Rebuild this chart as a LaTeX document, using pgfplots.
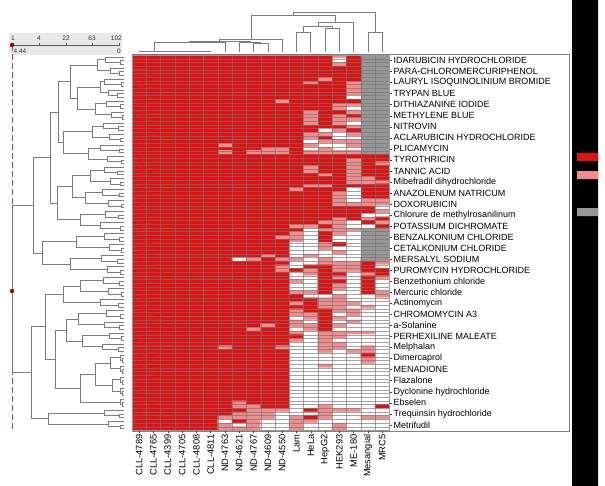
\documentclass[border=0pt]{standalone}
\usepackage{pgfplots}
\pgfplotsset{compat=1.18}
\usepackage{pgfplotstable}
\usepackage{fontspec}
\setmainfont{Liberation Sans}

% heat values, one line per drug row (102 rows x 18 columns)
% 0 = white, 1 = pink, 2 = red, 3 = grey (missing)
\pgfplotstableread[row sep=\\]{
c\\
2\\2\\2\\2\\2\\2\\2\\2\\2\\2\\2\\2\\2\\2\\1\\2\\3\\3\\
2\\2\\2\\2\\2\\2\\2\\2\\2\\2\\2\\2\\2\\2\\0\\2\\3\\3\\
2\\2\\2\\2\\2\\2\\2\\2\\2\\2\\2\\2\\2\\2\\1\\2\\3\\3\\
2\\2\\2\\2\\2\\2\\2\\2\\2\\2\\2\\2\\2\\2\\2\\2\\3\\3\\
2\\2\\2\\2\\2\\2\\2\\2\\2\\2\\2\\2\\2\\2\\2\\2\\3\\3\\
2\\2\\2\\2\\2\\2\\2\\2\\2\\2\\2\\2\\2\\2\\2\\2\\3\\3\\
2\\2\\2\\2\\2\\2\\2\\2\\2\\2\\2\\2\\2\\1\\2\\2\\3\\3\\
2\\2\\2\\2\\2\\2\\2\\2\\2\\2\\2\\2\\1\\2\\2\\1\\3\\3\\
2\\2\\2\\2\\2\\2\\2\\2\\2\\2\\2\\2\\2\\2\\2\\1\\3\\3\\
2\\2\\2\\2\\2\\2\\2\\2\\2\\2\\2\\2\\2\\2\\2\\1\\3\\3\\
2\\2\\2\\2\\2\\2\\2\\2\\2\\2\\2\\2\\2\\2\\2\\1\\3\\3\\
2\\2\\2\\2\\2\\2\\2\\2\\2\\2\\2\\2\\2\\2\\2\\0\\3\\3\\
2\\2\\2\\2\\2\\2\\2\\2\\2\\2\\1\\2\\2\\2\\2\\2\\3\\3\\
2\\2\\2\\2\\2\\2\\2\\2\\2\\2\\2\\2\\2\\2\\1\\1\\3\\3\\
2\\2\\2\\2\\2\\2\\2\\2\\2\\2\\2\\2\\2\\2\\1\\0\\3\\3\\
2\\2\\2\\2\\2\\2\\2\\2\\2\\2\\2\\2\\1\\2\\2\\1\\3\\3\\
2\\2\\2\\2\\2\\2\\2\\2\\2\\2\\2\\2\\1\\2\\1\\2\\3\\3\\
2\\2\\2\\2\\2\\2\\2\\2\\2\\2\\2\\2\\1\\2\\1\\1\\3\\3\\
2\\2\\2\\2\\2\\2\\2\\2\\2\\2\\2\\2\\1\\2\\1\\0\\3\\3\\
2\\2\\2\\2\\2\\2\\2\\2\\2\\2\\2\\2\\2\\2\\2\\1\\3\\3\\
2\\2\\2\\2\\2\\2\\2\\2\\2\\2\\2\\2\\2\\0\\1\\2\\3\\3\\
2\\2\\2\\2\\2\\2\\2\\2\\2\\2\\2\\2\\1\\1\\0\\1\\3\\3\\
2\\2\\2\\2\\2\\2\\2\\2\\2\\2\\2\\2\\1\\2\\0\\0\\3\\3\\
2\\2\\2\\2\\2\\2\\2\\2\\2\\2\\2\\2\\0\\1\\1\\1\\3\\3\\
2\\2\\2\\2\\2\\2\\1\\2\\2\\2\\2\\2\\1\\0\\0\\1\\3\\3\\
2\\2\\2\\2\\2\\2\\2\\2\\2\\1\\1\\2\\0\\1\\0\\0\\3\\3\\
2\\2\\2\\2\\2\\2\\1\\2\\1\\1\\1\\2\\1\\1\\1\\1\\3\\3\\
2\\2\\2\\2\\2\\2\\2\\2\\2\\2\\2\\2\\2\\2\\2\\2\\2\\2\\
2\\2\\2\\2\\2\\2\\2\\2\\2\\2\\2\\2\\2\\2\\2\\1\\2\\2\\
2\\2\\2\\2\\2\\2\\2\\2\\2\\2\\2\\2\\2\\2\\2\\1\\2\\1\\
2\\2\\2\\2\\2\\2\\2\\2\\2\\2\\2\\2\\1\\2\\2\\1\\2\\2\\
2\\2\\2\\2\\2\\2\\2\\2\\2\\2\\2\\2\\1\\2\\2\\1\\2\\2\\
2\\2\\2\\2\\2\\2\\2\\2\\2\\2\\2\\2\\2\\1\\2\\1\\2\\2\\
2\\2\\2\\2\\2\\2\\2\\2\\2\\2\\2\\2\\2\\2\\2\\1\\1\\2\\
2\\2\\2\\2\\2\\2\\2\\2\\2\\2\\2\\2\\2\\2\\2\\1\\1\\1\\
2\\2\\2\\2\\2\\2\\2\\2\\2\\2\\2\\2\\1\\1\\2\\2\\2\\2\\
2\\2\\2\\2\\2\\2\\2\\2\\2\\2\\2\\1\\2\\2\\2\\0\\2\\2\\
2\\2\\2\\2\\2\\2\\2\\2\\2\\2\\2\\2\\2\\2\\1\\0\\2\\2\\
2\\2\\2\\2\\2\\2\\2\\2\\2\\2\\2\\2\\2\\2\\1\\0\\2\\2\\
2\\2\\2\\2\\2\\2\\2\\2\\2\\2\\2\\2\\2\\2\\1\\0\\1\\1\\
2\\2\\2\\2\\2\\2\\2\\2\\2\\2\\2\\2\\2\\2\\1\\1\\1\\1\\
2\\2\\2\\2\\2\\2\\2\\2\\2\\2\\2\\2\\2\\2\\2\\2\\2\\0\\
2\\2\\2\\2\\2\\2\\2\\2\\2\\2\\2\\2\\2\\2\\2\\2\\2\\1\\
2\\2\\2\\2\\2\\2\\2\\2\\2\\2\\2\\2\\2\\2\\2\\2\\0\\0\\
2\\2\\2\\2\\2\\2\\2\\2\\2\\2\\2\\2\\2\\2\\1\\2\\1\\2\\
2\\2\\2\\2\\2\\2\\2\\2\\2\\2\\2\\2\\2\\1\\1\\0\\2\\1\\
2\\2\\2\\2\\2\\2\\2\\2\\2\\2\\2\\1\\1\\2\\1\\0\\0\\2\\
2\\2\\2\\2\\2\\2\\2\\2\\2\\2\\2\\2\\0\\1\\1\\1\\3\\3\\
2\\2\\2\\2\\2\\2\\2\\2\\2\\2\\2\\1\\0\\2\\1\\0\\3\\3\\
2\\2\\2\\2\\2\\2\\2\\2\\2\\2\\1\\1\\0\\2\\0\\0\\3\\3\\
2\\2\\2\\2\\2\\2\\2\\2\\2\\2\\2\\1\\0\\2\\0\\0\\3\\3\\
2\\2\\2\\2\\2\\2\\2\\2\\2\\2\\2\\0\\0\\1\\2\\0\\3\\3\\
2\\2\\2\\2\\2\\2\\2\\2\\2\\2\\2\\0\\0\\1\\0\\0\\3\\3\\
2\\2\\2\\2\\2\\2\\2\\2\\2\\2\\2\\0\\0\\0\\1\\0\\3\\3\\
2\\2\\2\\2\\2\\2\\2\\2\\2\\1\\2\\0\\1\\0\\0\\0\\3\\3\\
2\\2\\2\\2\\2\\2\\2\\0\\1\\2\\1\\1\\0\\1\\0\\0\\3\\3\\
2\\2\\2\\2\\2\\2\\2\\2\\2\\2\\2\\0\\0\\1\\1\\1\\2\\1\\
2\\2\\2\\2\\2\\2\\2\\2\\2\\2\\1\\0\\2\\2\\1\\1\\2\\0\\
2\\2\\2\\2\\2\\2\\2\\2\\2\\2\\1\\2\\1\\2\\1\\1\\2\\2\\
2\\2\\2\\2\\2\\2\\2\\2\\2\\2\\2\\0\\1\\2\\2\\0\\1\\2\\
2\\2\\2\\2\\2\\2\\2\\2\\2\\2\\2\\0\\0\\2\\1\\0\\2\\1\\
2\\2\\2\\2\\2\\2\\2\\2\\2\\2\\2\\1\\0\\2\\2\\0\\2\\0\\
2\\2\\2\\2\\2\\2\\2\\2\\2\\2\\2\\0\\0\\2\\1\\0\\2\\0\\
2\\2\\2\\2\\2\\2\\2\\2\\2\\2\\2\\0\\0\\2\\1\\0\\2\\0\\
2\\2\\2\\2\\2\\2\\2\\2\\2\\2\\2\\1\\1\\2\\0\\0\\2\\1\\
2\\2\\2\\2\\2\\2\\2\\2\\2\\2\\2\\2\\0\\0\\1\\0\\0\\1\\
2\\2\\2\\2\\2\\2\\2\\2\\2\\2\\2\\2\\2\\1\\1\\0\\0\\0\\
2\\2\\2\\2\\2\\2\\2\\2\\2\\2\\2\\1\\2\\1\\1\\1\\0\\0\\
2\\2\\2\\2\\2\\2\\2\\2\\2\\2\\2\\2\\2\\1\\1\\0\\1\\0\\
2\\2\\2\\2\\2\\2\\2\\2\\2\\2\\2\\1\\2\\2\\1\\1\\0\\0\\
2\\2\\2\\2\\2\\2\\2\\2\\2\\2\\2\\1\\1\\2\\0\\1\\0\\0\\
2\\2\\2\\2\\2\\2\\2\\2\\2\\2\\2\\0\\1\\2\\1\\0\\0\\0\\
2\\2\\2\\2\\2\\2\\2\\2\\2\\2\\2\\1\\0\\2\\0\\1\\0\\0\\
2\\2\\2\\2\\2\\2\\2\\2\\2\\1\\2\\1\\1\\2\\1\\0\\0\\0\\
2\\2\\2\\2\\2\\2\\2\\2\\1\\2\\2\\0\\1\\2\\0\\0\\0\\0\\
2\\2\\2\\2\\2\\2\\2\\2\\2\\2\\2\\1\\0\\1\\1\\1\\1\\0\\
2\\2\\2\\2\\2\\2\\2\\2\\2\\2\\2\\2\\0\\1\\1\\0\\0\\0\\
2\\2\\2\\2\\2\\2\\2\\2\\2\\2\\2\\1\\0\\1\\0\\0\\0\\0\\
2\\2\\2\\2\\2\\2\\2\\2\\2\\2\\2\\0\\0\\1\\1\\0\\0\\0\\
2\\2\\2\\2\\2\\2\\1\\2\\2\\2\\1\\0\\0\\1\\1\\0\\1\\0\\
2\\2\\2\\2\\2\\2\\2\\2\\2\\2\\2\\0\\0\\1\\0\\1\\1\\0\\
2\\2\\2\\2\\2\\2\\2\\2\\2\\2\\2\\0\\0\\0\\0\\0\\2\\0\\
2\\2\\2\\2\\2\\2\\2\\2\\2\\2\\2\\0\\0\\0\\0\\0\\1\\0\\
2\\2\\2\\2\\2\\2\\2\\2\\2\\2\\2\\0\\0\\0\\0\\0\\1\\0\\
2\\2\\2\\2\\2\\2\\2\\2\\2\\2\\2\\0\\0\\1\\0\\0\\0\\0\\
2\\2\\2\\2\\2\\2\\2\\2\\2\\2\\2\\0\\0\\0\\0\\0\\0\\0\\
2\\2\\2\\2\\2\\2\\2\\2\\2\\2\\2\\0\\0\\0\\0\\0\\0\\0\\
2\\2\\2\\2\\2\\2\\2\\2\\2\\2\\2\\0\\0\\0\\0\\0\\0\\0\\
2\\2\\2\\2\\2\\2\\2\\2\\2\\2\\2\\0\\0\\0\\0\\0\\0\\0\\
2\\2\\2\\2\\2\\2\\2\\2\\2\\2\\2\\0\\0\\0\\0\\0\\0\\0\\
2\\2\\2\\2\\2\\2\\2\\2\\2\\2\\2\\0\\0\\0\\0\\0\\0\\0\\
2\\2\\2\\2\\2\\2\\2\\2\\2\\2\\2\\0\\0\\0\\0\\0\\0\\0\\
2\\2\\2\\2\\2\\2\\2\\2\\2\\2\\2\\0\\0\\0\\0\\0\\0\\0\\
2\\2\\2\\2\\2\\2\\2\\2\\2\\2\\2\\0\\0\\0\\0\\0\\0\\0\\
2\\2\\2\\2\\2\\2\\2\\1\\2\\2\\2\\0\\0\\0\\0\\0\\0\\0\\
2\\2\\2\\2\\2\\2\\2\\1\\1\\2\\2\\0\\0\\1\\0\\0\\0\\2\\
2\\2\\2\\2\\2\\2\\2\\2\\1\\1\\1\\0\\2\\1\\1\\1\\0\\0\\
2\\2\\2\\2\\2\\2\\2\\1\\1\\1\\0\\0\\0\\1\\0\\0\\0\\0\\
2\\2\\2\\2\\2\\2\\1\\1\\1\\1\\0\\1\\2\\1\\0\\0\\1\\1\\
2\\2\\2\\2\\2\\2\\0\\2\\1\\0\\0\\1\\1\\0\\0\\0\\0\\0\\
2\\2\\2\\2\\2\\2\\1\\0\\1\\0\\0\\1\\0\\0\\1\\0\\0\\0\\
2\\2\\2\\2\\2\\2\\1\\1\\1\\0\\0\\1\\0\\0\\1\\0\\0\\0\\
}\heatdata

\definecolor{hred}{RGB}{226,17,17}
\definecolor{hpink}{RGB}{240,140,140}
\definecolor{hgrey}{RGB}{150,150,150}
\definecolor{dendro}{RGB}{125,125,125}
\definecolor{slider}{RGB}{232,232,232}
\definecolor{cutred}{RGB}{200,60,60}

\begin{document}
\begin{tikzpicture}
% ---------- canvas axis in pixel units (y downwards) ----------
\begin{axis}[
  name=main, at={(0,0)}, anchor=south west,
  scale only axis, width=605bp, height=486bp,
  xmin=0, xmax=605, ymin=0, ymax=486, y dir=reverse,
  hide axis, clip=false,
]
\addplot[draw=none, fill=white] coordinates {(0,0)(605,0)(605,486)(0,486)(0,0)};
% frame round heatmap and labels
\addplot[draw=gray, line width=0.5bp] coordinates {(132,54)(569,54)(569,431)(132,431)(132,54)};
% black legend bar with colour swatches
\addplot[draw=none, fill=black] coordinates {(572,0)(598,0)(598,486)(572,486)(572,0)};
\addplot[draw=none, fill=hred] coordinates {(577,153)(598,153)(598,161)(577,161)(577,153)};
\addplot[draw=none, fill=hpink] coordinates {(577,171)(598,171)(598,179)(577,179)(577,171)};
\addplot[draw=none, fill=hgrey] coordinates {(577,208)(598,208)(598,216)(577,216)(577,208)};
% slider
\addplot[draw=none, fill=slider] coordinates {(9,33)(122,33)(122,55)(9,55)(9,33)};
\addplot[draw=gray!70!black, line width=0.5bp, unbounded coords=jump] table {
x y
12 45
120 45
nan nan
13 45
13 43
nan nan
39 45
39 43
nan nan
66 45
66 43
nan nan
92 45
92 43
nan nan
119.5 45
119.5 43
};
\node[font=\fontsize{6.5bp}{7bp}\selectfont, text=black!80] at (axis cs:13,38) {1};
\node[font=\fontsize{6.5bp}{7bp}\selectfont, text=black!80] at (axis cs:39,38) {4};
\node[font=\fontsize{6.5bp}{7bp}\selectfont, text=black!80] at (axis cs:66,38) {22};
\node[font=\fontsize{6.5bp}{7bp}\selectfont, text=black!80] at (axis cs:92,38) {63};
\node[font=\fontsize{6.5bp}{7bp}\selectfont, text=black!80, anchor=east, inner sep=0pt] at (axis cs:122,38) {102};
\node[font=\fontsize{6.5bp}{7bp}\selectfont, text=black!80, anchor=west, inner sep=0pt] at (axis cs:13.5,51.5) {4.44};
\node[font=\fontsize{6.5bp}{7bp}\selectfont, text=black!80, anchor=east, inner sep=0pt] at (axis cs:121,51.5) {0};
% cut line
\addplot[cutred, line width=0.8bp, dash pattern=on 6bp off 3bp] coordinates {(12,45)(12,430)};
\addplot[only marks, mark=*, mark size=2bp, color=red!60!black] coordinates {(12,45)(12,291)};
% ---------- top (column) dendrogram ----------
\addplot[dendro, line width=0.7bp, unbounded coords=jump] table {
x y
139.15 52
139.15 51
210.65 51
210.65 52
nan nan
153.45 51
153.45 52
nan nan
167.75 51
167.75 52
nan nan
182.05 51
182.05 52
nan nan
196.35 51
196.35 52
nan nan
154.3 51
154.3 42.3
224.95 42.3
224.95 52
nan nan
253.55 52
253.55 43.3
267.85 43.3
267.85 52
nan nan
239.25 52
239.25 42.3
260.7 42.3
260.7 43.3
nan nan
189.6 42.3
189.6 41
250 41
250 42.3
nan nan
219.8 41
219.8 39
282.15 39
282.15 52
nan nan
296.45 52
296.45 32.3
310.75 32.3
310.75 52
nan nan
325.05 52
325.05 28.3
339.35 28.3
339.35 52
nan nan
303.6 32.3
303.6 26
332.2 26
332.2 28.3
nan nan
317.9 26
317.9 22.7
353.65 22.7
353.65 52
nan nan
251 39
251 15
335.8 15
335.8 22.7
nan nan
367.95 52
367.95 32.3
382.25 32.3
382.25 52
nan nan
293.4 15
293.4 12.3
375.1 12.3
375.1 32.3
};
% ---------- left (row) dendrogram: groups of three rows ----------
\addplot[dendro, line width=0.6bp, unbounded coords=jump] table {
x y
124 60.52
120 60.52
120 64.20
124 64.20
nan nan
124 56.84
105 56.84
105 62.36
120 62.36
nan nan
124 71.56
119 71.56
119 75.24
124 75.24
nan nan
124 67.88
110 67.88
110 73.40
119 73.40
nan nan
124 82.60
121 82.60
121 86.28
124 86.28
nan nan
124 78.92
104 78.92
104 84.44
121 84.44
nan nan
124 93.64
117 93.64
117 97.32
124 97.32
nan nan
124 89.96
108 89.96
108 95.48
117 95.48
nan nan
124 104.68
120 104.68
120 108.36
124 108.36
nan nan
124 101.00
106 101.00
106 106.52
120 106.52
nan nan
124 115.72
122 115.72
122 119.40
124 119.40
nan nan
124 112.04
111 112.04
111 117.56
122 117.56
nan nan
124 126.76
118 126.76
118 130.44
124 130.44
nan nan
124 123.08
103 123.08
103 128.60
118 128.60
nan nan
124 137.80
120 137.80
120 141.48
124 141.48
nan nan
124 134.12
109 134.12
109 139.64
120 139.64
nan nan
124 148.84
119 148.84
119 152.52
124 152.52
nan nan
124 145.16
100 145.16
100 150.68
119 150.68
nan nan
124 159.88
121 159.88
121 163.56
124 163.56
nan nan
124 156.20
107 156.20
107 161.72
121 161.72
nan nan
124 170.92
117 170.92
117 174.60
124 174.60
nan nan
124 167.24
104 167.24
104 172.76
117 172.76
nan nan
124 181.96
120 181.96
120 185.64
124 185.64
nan nan
124 178.28
110 178.28
110 183.80
120 183.80
nan nan
124 193.00
119 193.00
119 196.68
124 196.68
nan nan
124 189.32
102 189.32
102 194.84
119 194.84
nan nan
124 204.04
121 204.04
121 207.72
124 207.72
nan nan
124 200.36
108 200.36
108 205.88
121 205.88
nan nan
124 215.08
118 215.08
118 218.76
124 218.76
nan nan
124 211.40
105 211.40
105 216.92
118 216.92
nan nan
124 226.12
120 226.12
120 229.80
124 229.80
nan nan
124 222.44
100 222.44
100 227.96
120 227.96
nan nan
124 237.16
119 237.16
119 240.84
124 240.84
nan nan
124 233.48
104 233.48
104 239.00
119 239.00
nan nan
124 248.20
121 248.20
121 251.88
124 251.88
nan nan
124 244.52
109 244.52
109 250.04
121 250.04
nan nan
124 259.24
117 259.24
117 262.92
124 262.92
nan nan
124 255.56
101 255.56
101 261.08
117 261.08
nan nan
124 270.28
120 270.28
120 273.96
124 273.96
nan nan
124 266.60
107 266.60
107 272.12
120 272.12
nan nan
124 281.32
119 281.32
119 285.00
124 285.00
nan nan
124 277.64
103 277.64
103 283.16
119 283.16
nan nan
124 292.36
121 292.36
121 296.04
124 296.04
nan nan
124 288.68
108 288.68
108 294.20
121 294.20
nan nan
124 303.40
118 303.40
118 307.08
124 307.08
nan nan
124 299.72
100 299.72
100 305.24
118 305.24
nan nan
124 314.44
120 314.44
120 318.12
124 318.12
nan nan
124 310.76
106 310.76
106 316.28
120 316.28
nan nan
124 325.48
119 325.48
119 329.16
124 329.16
nan nan
124 321.80
104 321.80
104 327.32
119 327.32
nan nan
124 336.52
121 336.52
121 340.20
124 340.20
nan nan
124 332.84
109 332.84
109 338.36
121 338.36
nan nan
124 347.56
118 347.56
118 351.24
124 351.24
nan nan
124 343.88
102 343.88
102 349.40
118 349.40
nan nan
124 358.60
122.5 358.60
122.5 362.28
124 362.28
nan nan
124 354.92
120 354.92
120 360.44
122.5 360.44
nan nan
124 369.64
122.5 369.64
122.5 373.32
124 373.32
nan nan
124 365.96
120 365.96
120 371.48
122.5 371.48
nan nan
124 380.68
122.5 380.68
122.5 384.36
124 384.36
nan nan
124 377.00
120 377.00
120 382.52
122.5 382.52
nan nan
124 391.72
122.5 391.72
122.5 395.40
124 395.40
nan nan
124 388.04
120 388.04
120 393.56
122.5 393.56
nan nan
124 402.76
122.5 402.76
122.5 406.44
124 406.44
nan nan
124 399.08
120 399.08
120 404.60
122.5 404.60
nan nan
124 413.80
119 413.80
119 417.48
124 417.48
nan nan
124 410.12
104 410.12
104 415.64
119 415.64
nan nan
124 424.84
120 424.84
120 428.52
124 428.52
nan nan
124 421.16
108 421.16
108 426.68
120 426.68
};
% ---------- left dendrogram: merges of the groups ----------
\addplot[dendro, line width=0.6bp, unbounded coords=jump] table {
x y
105 59.60
97 59.60
97 70.64
110 70.64
nan nan
104 81.68
100 81.68
100 92.72
108 92.72
nan nan
106 103.76
95 103.76
95 114.80
111 114.80
nan nan
100 87.20
77 87.20
77 109.28
95 109.28
nan nan
97 65.12
70 65.12
70 98.24
77 98.24
nan nan
103 125.84
92 125.84
92 136.88
109 136.88
nan nan
100 147.92
88 147.92
88 158.96
107 158.96
nan nan
92 131.36
63 131.36
63 153.44
88 153.44
nan nan
70 81.68
58 81.68
58 142.40
63 142.40
nan nan
104 170.00
90 170.00
90 181.04
110 181.04
nan nan
102 192.08
85 192.08
85 203.12
108 203.12
nan nan
90 175.52
72 175.52
72 197.60
85 197.60
nan nan
105 214.16
80 214.16
80 225.20
100 225.20
nan nan
72 186.56
57 186.56
57 219.68
80 219.68
nan nan
58 112.04
50 112.04
50 203.12
57 203.12
nan nan
104 236.24
76 236.24
76 247.28
109 247.28
nan nan
101 258.32
70 258.32
70 269.36
107 269.36
nan nan
76 241.76
42 241.76
42 263.84
70 263.84
nan nan
50 157.58
33 157.58
33 252.80
42 252.80
nan nan
103 280.40
80 280.40
80 291.44
108 291.44
nan nan
80 285.92
63 285.92
63 302.48
100 302.48
nan nan
106 313.52
78 313.52
78 324.56
104 324.56
nan nan
109 335.60
82 335.60
82 346.64
102 346.64
nan nan
78 319.04
66 319.04
66 341.12
82 341.12
nan nan
120 357.68
110 357.68
110 368.72
120 368.72
nan nan
120 379.76
112 379.76
112 390.80
120 390.80
nan nan
110 363.20
95 363.20
95 385.28
112 385.28
nan nan
95 374.24
80 374.24
80 401.84
120 401.84
nan nan
66 330.08
55 330.08
55 388.04
80 388.04
nan nan
63 294.20
45 294.20
45 359.06
55 359.06
nan nan
104 412.88
48 412.88
48 423.92
108 423.92
nan nan
45 326.63
31 326.63
31 418.40
48 418.40
nan nan
33 205.19
12 205.19
12 372.52
31 372.52
};
\end{axis}
% ---------- heatmap ----------
\begin{axis}[
  at={(132bp,431bp)}, anchor=north west,
  scale only axis, width=257.4bp, height=375.36bp,
  xmin=-0.5, xmax=17.5, ymin=-0.5, ymax=101.5, y dir=reverse,
  enlargelimits=false, axis on top,
  axis line style={draw=gray!80, line width=0.4bp},
  xtick={0,...,17}, xtick pos=left,
  xticklabels={CLL-4789,CLL-4765,CLL-4399,CLL-4705,CLL-4808,CLL-4811,ND-4763,ND-4621,ND-4767,ND-4609,ND-4550,Lam,HeLa,HepG2,HEK293,ME-180,Mesangial,MRC5},
  xticklabel style={rotate=90, anchor=east, font=\fontsize{9.3bp}{10bp}\selectfont, inner sep=1bp},
  ytick={1,4,...,100}, ytick pos=right, yticklabel pos=right,
  yticklabels={IDARUBICIN HYDROCHLORIDE,PARA-CHLOROMERCURIPHENOL,LAURYL ISOQUINOLINIUM BROMIDE,TRYPAN BLUE,DITHIAZANINE IODIDE,METHYLENE BLUE,NITROVIN,ACLARUBICIN HYDROCHLORIDE,PLICAMYCIN,TYROTHRICIN,TANNIC ACID,Mibefradil dihydrochloride,ANAZOLENUM NATRICUM,DOXORUBICIN,Chlorure de methylrosanilinum,POTASSIUM DICHROMATE,BENZALKONIUM CHLORIDE,CETALKONIUM CHLORIDE,MERSALYL SODIUM,PUROMYCIN HYDROCHLORIDE,Benzethonium chloride,Mercuric chloride,Actinomycin,CHROMOMYCIN A3,a-Solanine,PERHEXILINE MALEATE,Melphalan,Dimercaprol,MENADIONE,Flazalone,Dyclonine hydrochloride,Ebselen,Trequinsin hydrochloride,Metrifudil},
  yticklabel style={anchor=west, font=\fontsize{9bp}{10bp}\selectfont, inner sep=1bp},
  tick align=outside, major tick length=3bp,
  tick style={draw=gray!50!black, line width=0.4bp},
  minor xtick={-0.5,0.5,...,17.5}, minor ytick={-0.5,0.5,...,101.5},
  minor tick length=0pt,
  xminorgrids, yminorgrids,
  minor grid style={draw=black!55, line width=0.35bp, opacity=0.65},
  colormap={heatcats}{rgb255=(255,255,255) rgb255=(240,140,140) rgb255=(226,17,17) rgb255=(150,150,150)},
  colormap access=direct,
]
\addplot[matrix plot*, mesh/cols=18, point meta=explicit]
  table[x index=0, y index=0, meta index=0, x expr={mod(\coordindex,18)}, y expr={floor(\coordindex/18)}] {\heatdata};
\end{axis}
\end{tikzpicture}
\end{document}
